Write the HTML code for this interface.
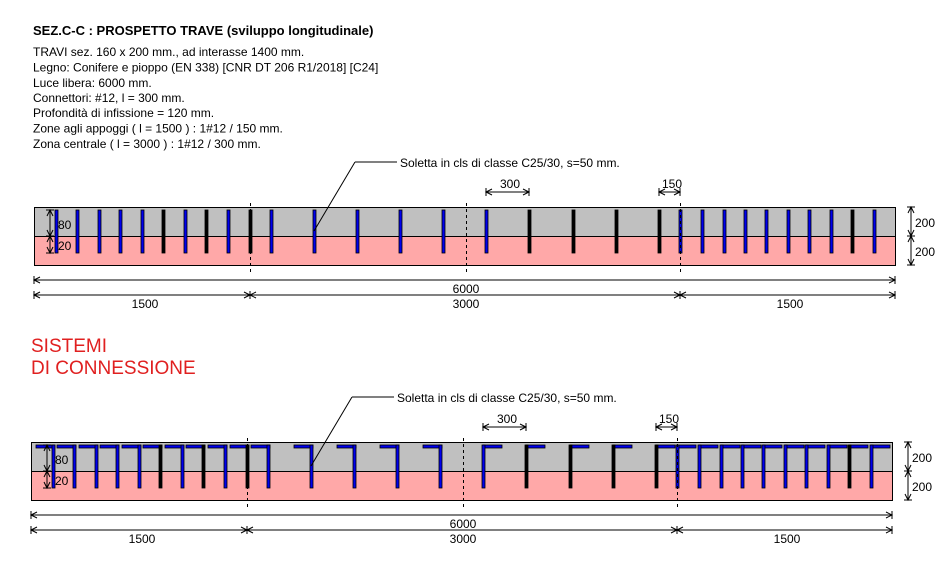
<!DOCTYPE html>
<html><head><meta charset="utf-8"><style>
html,body{margin:0;padding:0;background:#fff;}
svg{display:block;font-family:"Liberation Sans",Arial,sans-serif;}
</style></head><body>
<svg id="s" width="951" height="573" viewBox="0 0 951 573" xmlns="http://www.w3.org/2000/svg">
<text x="33" y="35" font-size="13" font-weight="bold">SEZ.C-C : PROSPETTO TRAVE (sviluppo longitudinale)</text>
<g font-size="12">
<text x="33" y="56">TRAVI sez. 160 x 200 mm., ad interasse 1400 mm.</text>
<text x="33" y="71.5">Legno: Conifere e pioppo (EN 338) [CNR DT 206 R1/2018] [C24]</text>
<text x="33" y="87">Luce libera: 6000 mm.</text>
<text x="33" y="102">Connettori: #12, l = 300 mm.</text>
<text x="33" y="117">Profondità di infissione = 120 mm.</text>
<text x="33" y="132.5">Zone agli appoggi ( l = 1500 ) :  1#12 / 150 mm.</text>
<text x="33" y="148">Zona centrale ( l = 3000 ) :  1#12 / 300 mm.</text>
</g>
<text x="31" y="352" font-size="19" fill="#e02020">SISTEMI</text>
<text x="31" y="374" font-size="19" fill="#e02020">DI CONNESSIONE</text>
<g id="g"></g>
</svg>
<script>
var g=document.getElementById('g'),h='';
function L(x1,y1,x2,y2,st,w){h+='<line x1="'+x1+'" y1="'+y1+'" x2="'+x2+'" y2="'+y2+'" stroke="#000" stroke-width="'+(w||1)+'"'+(st?' stroke-dasharray="'+st+'"':'')+'/>';}
function T(x,y,s,a){h+='<text x="'+x+'" y="'+y+'" font-size="12" text-anchor="'+(a||'middle')+'">'+s+'</text>';}
function dimH(x1,x2,y){L(x1,y,x2,y);L(x1,y-4,x1,y+4);L(x2,y-4,x2,y+4);
 h+='<path d="M'+(x1+6)+','+(y-3)+' L'+x1+','+y+' L'+(x1+6)+','+(y+3)+' M'+(x2-6)+','+(y-3)+' L'+x2+','+y+' L'+(x2-6)+','+(y+3)+'" fill="none" stroke="#000"/>';}
function dimV(x,y1,y2){L(x,y1,x,y2);L(x-4,y1,x+4,y1);L(x-4,y2,x+4,y2);
 h+='<path d="M'+(x-3)+','+(y1+6)+' L'+x+','+y1+' L'+(x+3)+','+(y1+6)+' M'+(x-3)+','+(y2-6)+' L'+x+','+y2+' L'+(x+3)+','+(y2-6)+'" fill="none" stroke="#000"/>';}
function beam(x0,y0,dy,type){
 var x1=x0+861,ym=y0+29,y1=y0+58;
 h+='<rect x="'+x0+'" y="'+y0+'" width="861" height="29" fill="#c0c0c0"/>';
 h+='<rect x="'+x0+'" y="'+ym+'" width="861" height="29" fill="#ffa8a8"/>';
 h+='<rect x="'+x0+'.5" y="'+y0+'.5" width="861" height="58" fill="none" stroke="#000"/>';
 L(x0,ym+.5,x1,ym+.5);
 var xs=[56,77,99,120,142,163,185,206,228,250,271,314,357,400,443,486,529,573,616,659,680,702,724,745,766,788,809,831,852,874];
 var blk=type==1?[163,206,250,529,573,616,659,852]:[163,206,250,529,573,616,659,852];
 var off=x0-34;
 xs.forEach(function(x,i){
  var X=x+off,isB=blk.indexOf(x)>=0,fill=isB?'#000':'#0000ee';
  var top=y0+3,bot=y0+46;
  if(type==2){
   var right=x>=480;
   var ax=right?X:X-17;
   h+='<rect x="'+ax+'" y="'+top+'" width="19" height="3" fill="#0000ee" stroke="#000" stroke-width="0.8"/>';
  }
  h+='<rect x="'+(X-1)+'" y="'+top+'" width="3" height="'+(bot-top)+'" fill="'+fill+'" stroke="#000" stroke-width="0.8"/>';
 });
 // dashed centre lines
 [250,466,680].forEach(function(x){L(x+off+.5,y0-4,x+off+.5,y1+8,'3,3');});
 // leader
 L(314+off,y0+24,355+off,y0-45);L(355+off,y0-45,397+off,y0-45);
 T(400+off,y0-40,'Soletta in cls di classe C25/30, s=50 mm.','start');
 dimH(486+off,529+off,y0-15);T(510+off,y0-19,'300');
 dimH(659+off,680+off,y0-15);T(672+off,y0-19,'150');
 dimV(x1+16,y0,ym);dimV(x1+16,ym,y1);
 T(x1+20,y0+20,'200','start');T(x1+20,y0+49,'200','start');
 dimV(x0+16,y0+3,ym);dimV(x0+16,ym,y0+46);
 T(x0+24,y0+22,'80','start');T(x0+24,y0+43,'20','start');
 dimH(x0,x1,y1+15);T(466+off,y1+28,'6000');
 dimH(x0,250+off,y1+30);dimH(250+off,680+off,y1+30);dimH(680+off,x1,y1+30);
 T(145+off,y1+43,'1500');T(466+off,y1+43,'3000');T(790+off,y1+43,'1500');
}
beam(34,207,0,1);
beam(31,442,0,2);
g.innerHTML=h;
</script>
</body></html>
